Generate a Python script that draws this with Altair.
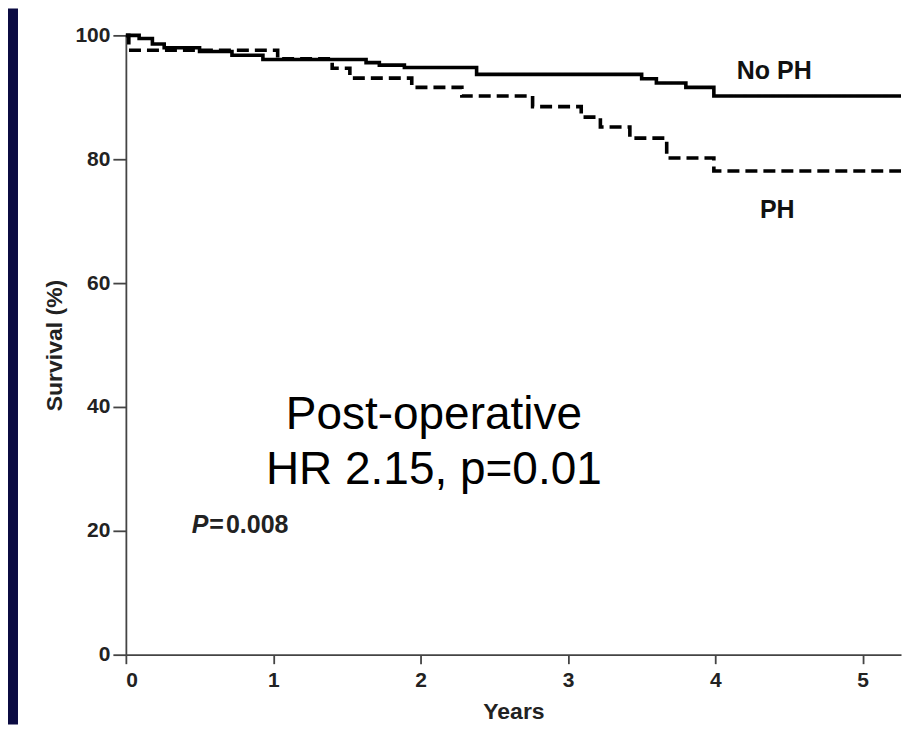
import altair as alt
import pandas as pd

# ---- data ----
nph_years = [0, 0.09, 0.18, 0.26, 0.50, 0.72, 0.93, 1.63, 1.72, 1.89, 2.38, 3.50, 3.60, 3.80, 3.99, 5.26]
nph_surv = [100, 99.5, 98.6, 98.0, 97.4, 96.8, 96.1, 95.6, 95.2, 94.8, 93.7, 93.0, 92.3, 91.6, 90.2, 90.2]
ph_years = [0, 0.02, 1.03, 1.40, 1.52, 1.94, 2.28, 2.76, 3.09, 3.22, 3.42, 3.67, 3.99, 5.26]
ph_surv = [100, 97.6, 96.2, 94.7, 93.1, 91.6, 90.2, 88.5, 86.8, 85.2, 83.4, 80.2, 78.1, 78.1]

x_ticks = [0, 1, 2, 3, 4, 5]
y_ticks = [0, 20, 40, 60, 80, 100]

group_labels = ["No PH", "PH"]
group_label_x = [4.40, 4.42]
group_label_y = [92.9, 70.5]

big_text = ["Post-operative", "HR 2.15, p=0.01"]
big_text_x = [2.09, 2.09]
big_text_y = [36.5, 27.6]

FONT = "Liberation Sans"
W, H = 776, 620

rows = []
for yv, s in zip(nph_years, nph_surv):
    rows.append({"years": yv, "surv": s, "group": "No PH"})
for yv, s in zip(ph_years, ph_surv):
    rows.append({"years": yv, "surv": s, "group": "PH"})
df = pd.DataFrame(rows)

xscale = alt.Scale(domain=[0, 5.26], nice=False, zero=False)
yscale = alt.Scale(domain=[0, 100], nice=False)

lines = alt.Chart(df).mark_line(interpolate="step-after", strokeWidth=3.6, color="black").encode(
    x=alt.X("years:Q", scale=xscale,
            axis=alt.Axis(values=x_ticks, title="Years", format="d", tickSize=9,
                          labelPadding=6, titlePadding=10)),
    y=alt.Y("surv:Q", scale=yscale,
            axis=alt.Axis(values=y_ticks, title="Survival (%)", tickSize=13,
                          labelPadding=3, titlePadding=8)),
    strokeDash=alt.StrokeDash("group:N",
                              scale=alt.Scale(domain=group_labels, range=[[1, 0], [12, 6]]),
                              legend=None),
    detail="group:N",
)

glabels = alt.Chart(pd.DataFrame({"t": group_labels, "x": group_label_x, "y": group_label_y})).mark_text(
    font=FONT, fontSize=25, fontWeight="bold", color="#111", align="center", baseline="alphabetic"
).encode(x=alt.X("x:Q", scale=xscale), y=alt.Y("y:Q", scale=yscale), text="t:N")

bigt = alt.Chart(pd.DataFrame({"t": big_text, "x": big_text_x, "y": big_text_y})).mark_text(
    font=FONT, fontSize=46, color="black", align="center", baseline="alphabetic"
).encode(x=alt.X("x:Q", scale=xscale), y=alt.Y("y:Q", scale=yscale), text="t:N")

pval_p = alt.Chart(pd.DataFrame({"t": ["P"], "x": [0.447], "y": [19.7]})).mark_text(
    font=FONT, fontSize=25, fontWeight="bold", fontStyle="italic", color="#222",
    align="left", baseline="alphabetic"
).encode(x=alt.X("x:Q", scale=xscale), y=alt.Y("y:Q", scale=yscale), text="t:N")

pval_rest = alt.Chart(pd.DataFrame({"t": ["=\u200a0.008"], "x": [0.566], "y": [19.7]})).mark_text(
    font=FONT, fontSize=25, fontWeight="bold", color="#222",
    align="left", baseline="alphabetic"
).encode(x=alt.X("x:Q", scale=xscale), y=alt.Y("y:Q", scale=yscale), text="t:N")

# decorative dark frame strip on the left (slide background)
strip = alt.Chart(pd.DataFrame({"a": [0]})).mark_rect(color="#0b0b42").encode(
    x=alt.value(-118), x2=alt.value(-108), y=alt.value(-27), y2=alt.value(H + 70)
)

chart = alt.layer(strip, lines, glabels, bigt, pval_p, pval_rest).properties(
    width=W, height=H,
    autosize=alt.AutoSizeParams(type="none"),
    padding={"left": 118, "top": 27, "right": 10, "bottom": 70},
    background="white",
).configure_view(stroke=None).configure_axis(
    grid=False,
    domainColor="#444", domainWidth=1.8, tickColor="#444", tickWidth=1.8,
    labelFont=FONT, labelFontSize=21, labelFontWeight="bold", labelColor="#222",
    titleFont=FONT, titleFontSize=23, titleFontWeight="bold", titleColor="#222",
)

chart.save("out.html", embed_options={"renderer": "svg", "actions": False})
